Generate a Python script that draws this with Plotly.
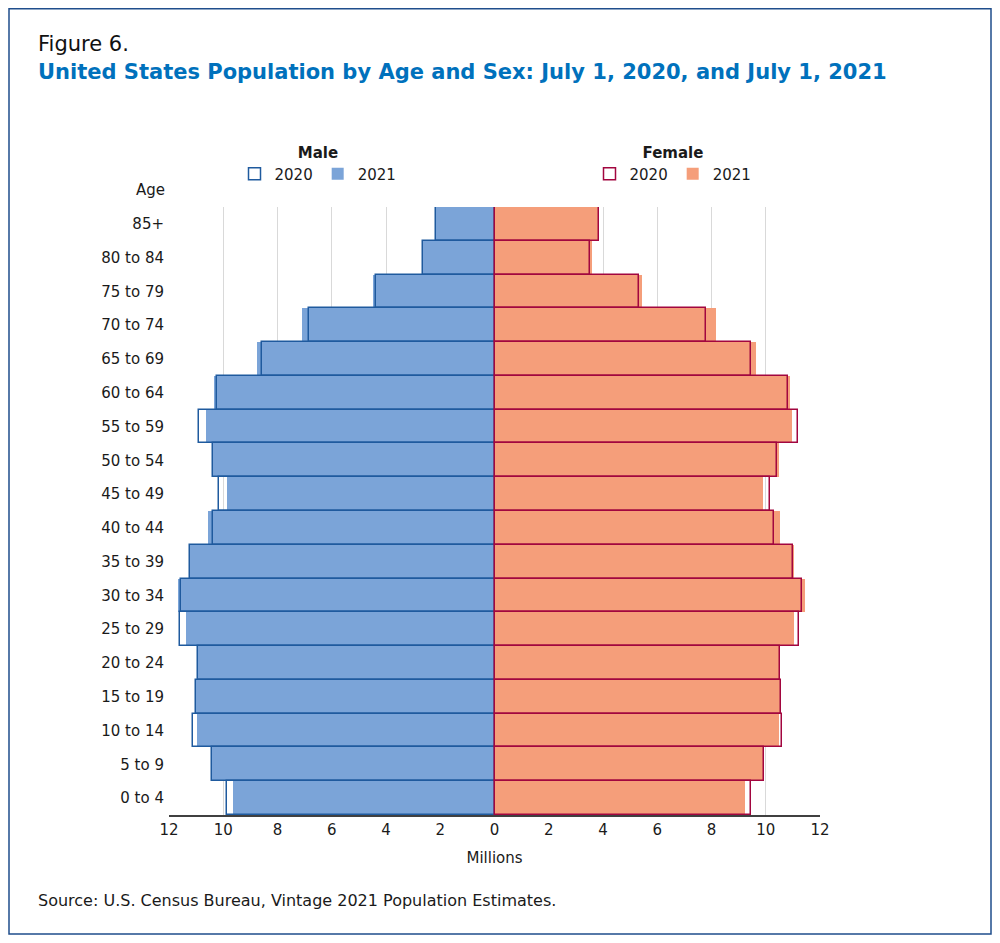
import plotly.graph_objects as go

ages = ["0 to 4", "5 to 9", "10 to 14", "15 to 19", "20 to 24", "25 to 29",
        "30 to 34", "35 to 39", "40 to 44", "45 to 49", "50 to 54", "55 to 59",
        "60 to 64", "65 to 69", "70 to 74", "75 to 79", "80 to 84", "85+"]

# millions
male_2020 = [9.85, 10.40, 11.10, 11.00, 10.93, 11.58, 11.57, 11.22, 10.36,
             10.17, 10.39, 10.88, 10.22, 8.56, 6.83, 4.37, 2.62, 2.15]
male_2021 = [9.63, 10.40, 10.98, 11.00, 10.95, 11.37, 11.68, 11.25, 10.57,
             9.87, 10.41, 10.63, 10.33, 8.74, 7.11, 4.47, 2.62, 2.17]
female_2020 = [9.44, 9.95, 10.61, 10.55, 10.54, 11.24, 11.32, 11.01, 10.31,
               10.17, 10.42, 11.20, 10.82, 9.47, 7.78, 5.31, 3.53, 3.86]
female_2021 = [9.23, 9.95, 10.49, 10.55, 10.54, 11.04, 11.44, 11.03, 10.52,
               9.91, 10.49, 10.95, 10.89, 9.65, 8.16, 5.44, 3.61, 3.83]

tick_vals = list(range(-12, 13, 2))
tick_text = [str(abs(v)) for v in tick_vals]

male_fill = "#7BA4D8"
male_line = "#1F5A9E"
female_fill = "#F59E7A"
female_line = "#A2063F"

FONT = "DejaVu Sans"
TXT = "#1a1a1a"

fig = go.Figure()

# 2021 filled bars first, 2020 outlines on top
fig.add_trace(go.Bar(y=ages, x=[-v for v in male_2021], orientation="h", name="2021",
                     marker=dict(color=male_fill, line=dict(width=0)),
                     legend="legend", legendrank=2,
                     customdata=male_2021, hovertemplate="%{y}: %{customdata} M<extra>Male 2021</extra>"))
fig.add_trace(go.Bar(y=ages, x=female_2021, orientation="h", name="2021",
                     marker=dict(color=female_fill, line=dict(width=0)),
                     legend="legend2", legendrank=2,
                     hovertemplate="%{y}: %{x} M<extra>Female 2021</extra>"))
fig.add_trace(go.Bar(y=ages, x=[-v for v in male_2020], orientation="h", name="2020",
                     marker=dict(color="rgba(255,255,255,0)", line=dict(color=male_line, width=1.5)),
                     legend="legend", legendrank=1,
                     customdata=male_2020, hovertemplate="%{y}: %{customdata} M<extra>Male 2020</extra>"))
fig.add_trace(go.Bar(y=ages, x=female_2020, orientation="h", name="2020",
                     marker=dict(color="rgba(255,255,255,0)", line=dict(color=female_line, width=1.5)),
                     legend="legend2", legendrank=1,
                     hovertemplate="%{y}: %{x} M<extra>Female 2020</extra>"))

# the page body adds an 8px margin, so work in page pixels minus that
OFF = 8
FIG_W, FIG_H = 1000 - 2 * OFF, 943 - 2 * OFF
L, R, T, B = 169 - OFF, 820 - OFF, 207 - OFF, 815 - OFF
W, H = R - L, B - T


def px(x):
    return (x - OFF - L) / W


def py(y):
    return (B - (y - OFF)) / H


legend_style = dict(orientation="h", yanchor="top", xanchor="center",
                    font=dict(family=FONT, size=15, color=TXT),
                    bgcolor="rgba(0,0,0,0)", itemwidth=30, traceorder="normal",
                    tracegroupgap=0, itemclick=False, itemdoubleclick=False)

fig.update_layout(
    width=FIG_W, height=FIG_H,
    margin=dict(l=L, r=FIG_W - R, t=T, b=FIG_H - B),
    paper_bgcolor="white", plot_bgcolor="white",
    barmode="overlay", bargap=0,
    font=dict(family=FONT, size=15, color=TXT),
    legend=dict(**legend_style, x=px(318), y=py(138),
                title=dict(text="<b>Male</b>", side="top center",
                           font=dict(family=FONT, size=15, color=TXT))),
    legend2=dict(**legend_style, x=px(673), y=py(138),
                 title=dict(text="<b>Female</b>", side="top center",
                            font=dict(family=FONT, size=15, color=TXT))),
    xaxis=dict(range=[-12, 12], tickvals=tick_vals, ticktext=tick_text,
               showgrid=True, gridcolor="#D9D9D9", gridwidth=1, zeroline=False,
               showline=True, linecolor="#404040", linewidth=1.5,
               ticks="", tickfont=dict(size=15), fixedrange=True,
               title=dict(text="Millions", font=dict(size=15), standoff=15)),
    yaxis=dict(categoryorder="array", categoryarray=ages, showgrid=False,
               showline=False, zeroline=False, ticks="", ticklabelstandoff=4,
               tickfont=dict(size=15), fixedrange=True),
    showlegend=True,
)

# frame around the whole figure (kept just inside the figure edges)
fig.add_shape(type="rect", xref="paper", yref="paper",
              x0=px(9), x1=px(OFF + FIG_W - 1), y0=py(OFF + FIG_H - 1), y1=py(OFF + 0.8),
              line=dict(color="#1F4E8C", width=1.5), fillcolor="rgba(0,0,0,0)", layer="above")

fig.add_annotation(text="Figure 6.", xref="paper", yref="paper", x=px(36), y=py(44),
                   xanchor="left", yanchor="middle", showarrow=False,
                   font=dict(family=FONT, size=21, color="#111111"))
fig.add_annotation(text="<b>United States Population by Age and Sex: July 1, 2020, and July 1, 2021</b>",
                   xref="paper", yref="paper", x=px(36), y=py(72),
                   xanchor="left", yanchor="middle", showarrow=False,
                   font=dict(family=FONT, size=21, color="#0071BC"))
fig.add_annotation(text="Age", xref="paper", yref="paper", x=px(167), y=py(190),
                   xanchor="right", yanchor="middle", showarrow=False,
                   font=dict(family=FONT, size=15, color=TXT))
fig.add_annotation(text="Source: U.S. Census Bureau, Vintage 2021 Population Estimates.",
                   xref="paper", yref="paper", x=px(36), y=py(900),
                   xanchor="left", yanchor="middle", showarrow=False,
                   font=dict(family=FONT, size=16, color=TXT))

fig.write_html("out.html")
